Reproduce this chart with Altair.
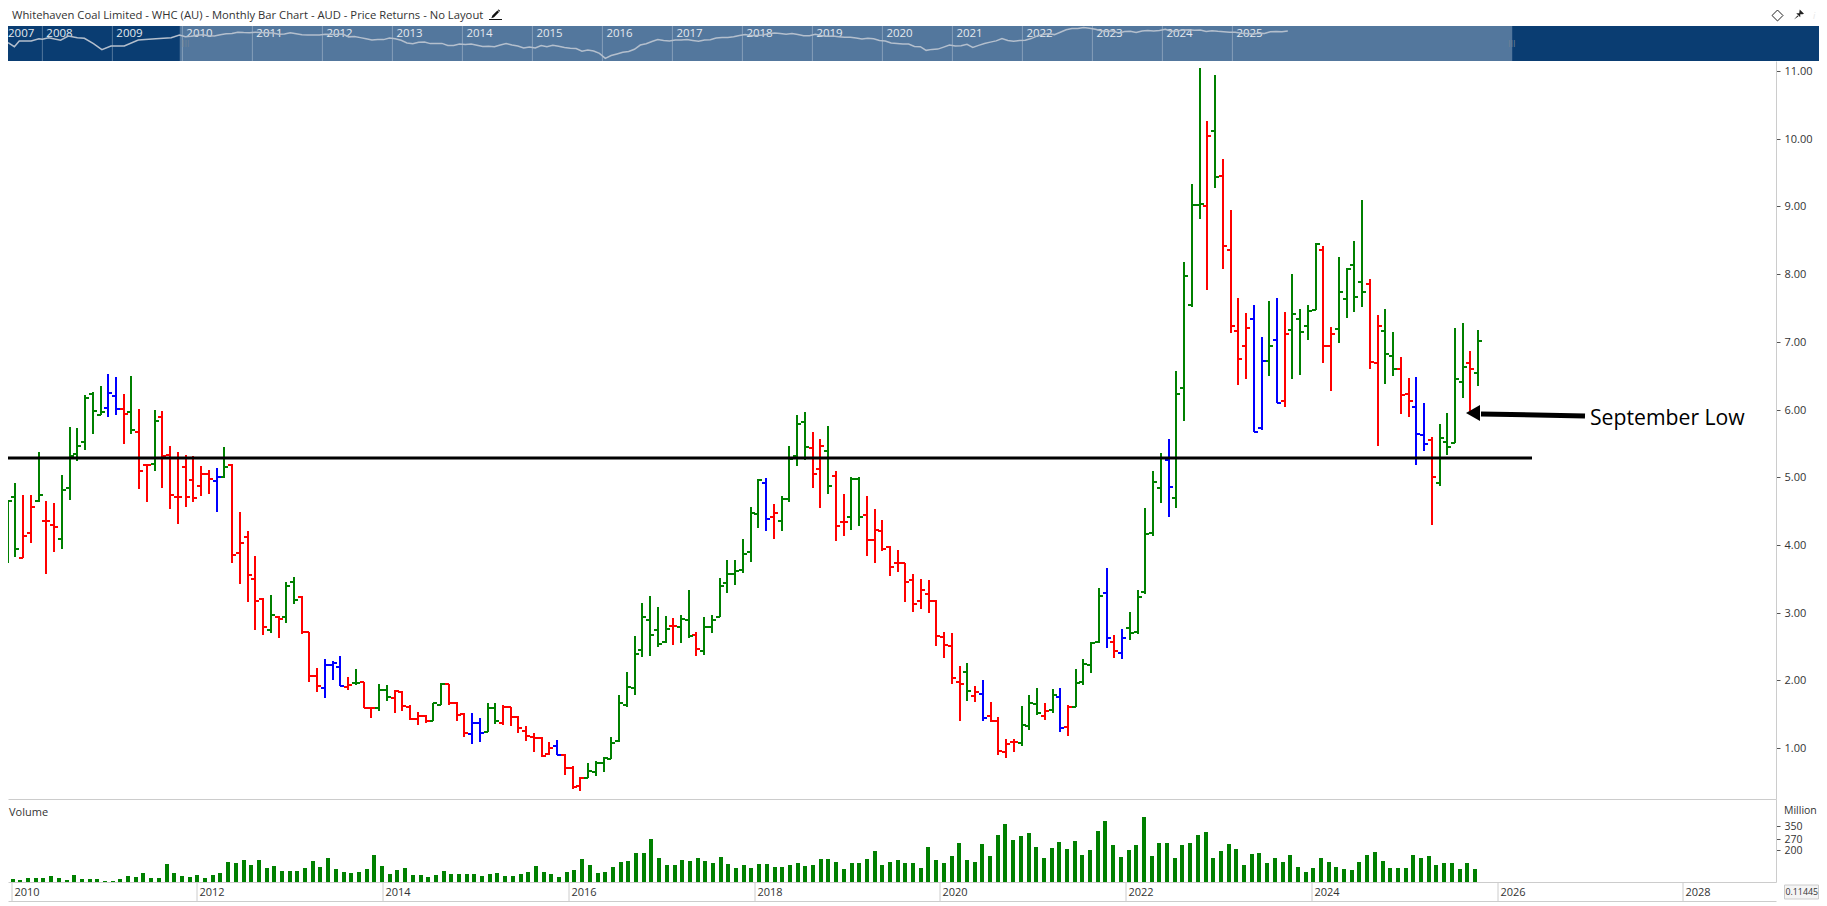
"""Whitehaven Coal monthly OHLC bar chart with navigator strip and volume panel."""

import altair as alt
import pandas as pd

FONT = "Open Sans"
TEXT_COLOR = "#333333"
LINE_GREY = "#cccccc"
COLORS = {"g": "#008000", "r": "#ff0000", "b": "#0000ff"}

# monthly bars, first one is Dec 2009
BAR_OPEN = [
    3.73, 4.71, 3.81, 4.17, 4.65, 4.35, 4.29, 4.09, 4.84, 5.35,
    5.52, 6.23, 5.92, 6.02, 6.20, 6.01, 5.96, 5.67, 5.18, 5.19,
    5.89, 5.33, 4.71, 5.15, 4.96, 4.87, 5.05, 4.94, 5.00, 5.18,
    3.88, 4.11, 3.50, 3.20, 2.75, 2.93, 2.94, 3.45, 3.23, 2.71,
    2.06, 1.88, 2.23, 2.19, 1.90, 1.96, 1.97, 1.59, 1.59, 1.86,
    1.74, 1.83, 1.60, 1.43, 1.47, 1.40, 1.64, 1.95, 1.66, 1.50,
    1.20, 1.37, 1.24, 1.59, 1.37, 1.60, 1.46, 1.25, 1.16, 1.15,
    0.91, 1.03, 0.90, 0.70, 0.44, 0.56, 0.65, 0.78, 0.84, 1.10,
    1.63, 1.89, 2.45, 2.89, 2.74, 2.57, 2.80, 2.79, 2.89, 2.67,
    2.43, 2.79, 2.93, 3.44, 3.57, 3.63, 3.90, 4.45, 4.92, 4.41,
    4.35, 4.68, 5.31, 5.82, 5.43, 5.12, 5.39, 5.02, 4.34, 4.41,
    4.97, 4.44, 4.07, 4.21, 3.97, 3.73, 3.73, 3.48, 3.17, 3.28,
    3.17, 2.64, 2.51, 1.98, 2.12, 1.77, 1.80, 1.47, 1.40, 0.94,
    1.09, 1.07, 1.33, 1.65, 1.47, 1.56, 1.75, 1.31, 1.61, 1.98,
    2.23, 2.57, 3.29, 2.57, 2.40, 2.77, 2.71, 3.30, 4.18, 4.84,
    5.25, 4.69, 6.32, 7.54, 9.02, 9.01, 10.11, 9.45, 8.36, 7.16,
    6.94, 7.34, 5.73, 6.72, 7.03, 6.12, 7.17, 7.34, 7.23, 7.47,
    8.36, 6.94, 7.19, 7.63, 8.13, 7.88, 7.85, 6.69, 7.16, 6.79,
    6.60, 6.23, 6.04, 5.62, 5.55, 4.91, 5.52, 5.50, 6.41, 6.69, 6.54,
]
BAR_HIGH = [
    4.66, 4.91, 4.74, 4.74, 5.37, 4.65, 4.62, 5.04, 5.74, 5.73,
    6.21, 6.26, 6.35, 6.52, 6.48, 6.23, 6.49, 6.01, 5.18, 5.99,
    5.98, 5.46, 5.37, 5.33, 5.31, 5.17, 5.11, 5.13, 5.44, 5.19,
    4.49, 4.21, 3.84, 3.21, 3.26, 2.95, 3.45, 3.53, 3.24, 2.71,
    2.18, 2.31, 2.29, 2.36, 2.05, 2.17, 1.98, 1.59, 1.94, 1.93,
    1.85, 1.84, 1.63, 1.53, 1.49, 1.67, 1.96, 1.95, 1.68, 1.51,
    1.52, 1.44, 1.67, 1.66, 1.63, 1.60, 1.47, 1.32, 1.22, 1.16,
    1.09, 1.12, 0.91, 0.73, 0.57, 0.78, 0.81, 0.86, 1.16, 1.79,
    2.12, 2.66, 3.14, 3.24, 3.08, 2.95, 2.92, 2.97, 3.33, 2.71,
    2.93, 2.96, 3.51, 3.78, 3.78, 4.09, 4.56, 4.97, 4.99, 4.61,
    4.72, 5.46, 5.92, 5.96, 5.67, 5.56, 5.76, 5.09, 4.75, 5.00,
    5.00, 4.72, 4.53, 4.37, 3.99, 3.93, 3.74, 3.57, 3.50, 3.48,
    3.18, 2.71, 2.70, 2.21, 2.26, 1.92, 2.00, 1.68, 1.46, 1.13,
    1.13, 1.62, 1.78, 1.89, 1.67, 1.87, 1.89, 1.64, 2.17, 2.31,
    2.57, 3.36, 3.66, 2.67, 2.76, 3.01, 3.33, 4.54, 5.09, 5.36,
    5.56, 6.57, 8.18, 9.33, 11.04, 10.26, 10.94, 9.70, 8.95, 7.65,
    7.43, 7.54, 7.07, 7.60, 7.65, 7.44, 8.00, 7.48, 7.54, 8.46,
    8.41, 7.22, 8.25, 8.09, 8.49, 9.09, 7.93, 7.40, 7.48, 7.15,
    6.77, 6.47, 6.48, 6.10, 5.59, 5.79, 5.95, 7.20, 7.28, 6.86, 7.17,
]
BAR_LOW = [
    3.73, 3.82, 3.80, 4.03, 4.64, 3.57, 3.90, 3.94, 4.66, 5.24,
    5.40, 5.64, 5.92, 5.89, 5.92, 5.49, 5.64, 4.83, 4.63, 5.09,
    4.84, 4.53, 4.31, 4.56, 4.63, 4.72, 4.75, 4.48, 4.99, 3.73,
    3.42, 3.16, 2.75, 2.67, 2.70, 2.63, 2.84, 3.12, 2.69, 1.97,
    1.83, 1.74, 2.01, 1.92, 1.86, 1.93, 1.59, 1.45, 1.54, 1.69,
    1.51, 1.54, 1.42, 1.34, 1.37, 1.40, 1.64, 1.64, 1.40, 1.16,
    1.06, 1.09, 1.23, 1.36, 1.34, 1.32, 1.22, 1.10, 0.94, 0.87,
    0.90, 0.89, 0.60, 0.40, 0.37, 0.56, 0.58, 0.65, 0.84, 1.09,
    1.60, 1.79, 2.34, 2.36, 2.49, 2.55, 2.52, 2.55, 2.62, 2.36,
    2.37, 2.70, 2.93, 3.29, 3.41, 3.59, 3.75, 4.25, 4.21, 4.09,
    4.21, 4.63, 5.17, 5.25, 4.84, 4.55, 4.75, 4.06, 4.13, 4.22,
    4.28, 3.84, 3.73, 3.91, 3.54, 3.60, 3.16, 3.01, 3.05, 3.00,
    2.51, 2.33, 1.95, 1.40, 1.69, 1.68, 1.40, 1.38, 0.89, 0.85,
    0.94, 1.03, 1.27, 1.49, 1.41, 1.52, 1.24, 1.18, 1.60, 1.93,
    2.11, 2.55, 2.48, 2.33, 2.31, 2.60, 2.69, 3.28, 4.13, 4.62,
    4.41, 4.54, 5.83, 7.51, 8.81, 7.77, 9.27, 8.08, 7.13, 6.36,
    6.45, 5.67, 5.70, 6.50, 6.10, 6.04, 6.45, 6.51, 7.03, 7.47,
    6.69, 6.27, 6.98, 7.35, 7.44, 7.51, 6.60, 5.46, 6.38, 6.50,
    5.93, 5.89, 5.18, 5.39, 4.29, 4.87, 5.33, 5.50, 6.17, 5.98, 6.35,
]
BAR_CLOSE = [
    4.65, 3.94, 4.13, 4.56, 4.73, 4.35, 4.26, 4.81, 5.31, 5.46,
    6.17, 5.98, 5.96, 6.24, 6.01, 5.93, 5.70, 5.09, 5.18, 5.83,
    5.31, 4.74, 4.71, 4.71, 4.69, 5.05, 4.97, 5.00, 5.15, 3.85,
    4.03, 3.56, 3.17, 2.79, 2.96, 2.90, 3.39, 3.19, 2.71, 2.06,
    1.91, 2.23, 2.25, 1.92, 1.93, 1.96, 1.59, 1.59, 1.86, 1.75,
    1.84, 1.62, 1.43, 1.47, 1.40, 1.67, 1.94, 1.67, 1.49, 1.22,
    1.37, 1.22, 1.59, 1.40, 1.61, 1.46, 1.30, 1.18, 1.15, 0.88,
    1.00, 0.90, 0.70, 0.42, 0.56, 0.66, 0.78, 0.85, 1.07, 1.66,
    1.90, 2.39, 2.93, 2.67, 2.54, 2.76, 2.80, 2.91, 2.66, 2.46,
    2.79, 2.89, 3.39, 3.57, 3.61, 3.87, 4.47, 4.96, 4.38, 4.47,
    4.68, 5.27, 5.79, 5.45, 5.05, 5.46, 4.87, 4.28, 4.34, 4.97,
    4.41, 4.07, 4.22, 3.94, 3.68, 3.73, 3.45, 3.13, 3.33, 3.17,
    2.65, 2.52, 2.03, 1.95, 1.84, 1.83, 1.44, 1.40, 0.96, 1.06,
    1.09, 1.34, 1.67, 1.52, 1.55, 1.78, 1.30, 1.60, 1.96, 2.24,
    2.55, 3.25, 2.63, 2.43, 2.63, 2.70, 3.23, 4.16, 4.93, 5.29,
    4.86, 6.23, 7.97, 9.02, 9.03, 10.04, 9.43, 8.42, 7.23, 6.75,
    7.20, 5.67, 6.72, 6.94, 6.10, 7.11, 7.41, 7.14, 7.46, 8.45,
    6.94, 7.11, 7.74, 8.07, 7.66, 7.74, 6.70, 7.23, 6.82, 6.60,
    6.21, 6.13, 5.64, 5.49, 5.00, 5.58, 5.45, 6.45, 6.63, 6.60, 7.01,
]
BAR_COLOR = list(
    "ggrrgrrggg" "gggbbrgrrg" "rrrrrrrbgr" "rrrrgrggrr" "rbbbrgrrgg"
    "rrrrrggrrr" "bbggrrrrrr" "rbrrrggggg" "ggggggrggr" "ggggggggbr"
    "ggggrrgrrg" "grrrrrrrrr" "rrrrgrbrrr" "rgggrgbrgg" "ggbrbggggg"
    "bggggrgrrr" "rbbgbrgggg" "rrggggrrgg" "rrbbrggggrg"
)
VOLUME = [
    19, 13, 23, 25, 25, 38, 25, 13, 44, 19, 19, 19, 6, 6, 19, 38, 32, 57, 25, 25,
    113, 57, 38, 32, 44, 25, 44, 57, 126, 120, 139, 107, 139, 88, 101, 69, 69, 69, 88, 132,
    94, 151, 82, 63, 57, 63, 82, 170, 101, 50, 76, 88, 44, 44, 32, 44, 69, 50, 50, 50,
    50, 38, 50, 57, 38, 38, 50, 63, 101, 63, 50, 32, 63, 76, 145, 107, 57, 63, 94, 126,
    132, 183, 183, 271, 151, 107, 107, 139, 132, 151, 132, 120, 157, 113, 88, 107, 88, 113, 113, 94,
    94, 107, 120, 101, 107, 145, 145, 126, 82, 120, 120, 145, 195, 107, 126, 139, 120, 120, 88, 220,
    139, 120, 164, 246, 139, 126, 239, 164, 296, 365, 265, 290, 309, 220, 151, 214, 252, 208, 258, 170,
    202, 321, 384, 233, 157, 202, 233, 410, 164, 246, 246, 151, 233, 246, 296, 315, 151, 195, 239, 208,
    107, 176, 183, 120, 151, 126, 170, 94, 63, 88, 151, 126, 94, 82, 76, 126, 170, 189, 132, 88,
    88, 88, 170, 151, 164, 107, 120, 120, 82, 120, 82,
]

# navigator line before the main data starts
NAV_EARLY_YEAR = [
    2007.51, 2007.6, 2007.67, 2007.84, 2007.95, 2008.0, 2008.09, 2008.26, 2008.37, 2008.5,
    2008.6, 2008.73, 2008.85, 2008.98, 2009.17, 2009.37, 2009.62, 2009.84,
]
NAV_EARLY_PRICE = [
    2.12, 1.40, 2.53, 2.53, 3.19, 3.00, 3.54, 2.71, 4.22, 3.54,
    3.33, 1.91, 1.03, 1.51, 1.51, 2.79, 3.19, 3.54,
]
NAV_YEARS = list(range(2008, 2026))
PRICE_TICKS = [1, 2, 3, 4, 5, 6, 7, 8, 9, 10, 11]
VOLUME_TICKS = [200, 270, 350]
AXIS_YEARS = [2010, 2012, 2014, 2016, 2018, 2020, 2022, 2024, 2026, 2028]

TITLE = "Whitehaven Coal Limited - WHC (AU) - Monthly Bar Chart - AUD - Price Returns - No Layout"
LEVEL = 5.29
LEVEL_END = 2026.37

X_DOMAIN = [2009.9623, 2028.9977]
NAV_DOMAIN = [2007.509, 2033.38]
PRICE_DOMAIN = [0.247, 11.148]

bars = pd.DataFrame(
    {
        "year": [2010 + (i - 0.5) / 12 for i in range(len(BAR_OPEN))],
        "open": BAR_OPEN,
        "high": BAR_HIGH,
        "low": BAR_LOW,
        "close": BAR_CLOSE,
        "color": BAR_COLOR,
        "volume": VOLUME,
    }
)

x_scale = alt.Scale(domain=X_DOMAIN, nice=False, round=True)
y_scale = alt.Scale(domain=PRICE_DOMAIN, nice=False, zero=False, round=True)
color_scale = alt.Scale(domain=list(COLORS), range=list(COLORS.values()))
bar_color = alt.Color("color:N", scale=color_scale, legend=None)


def text_mark(label, x, y, **kwargs):
    style = {"font": FONT, "fontSize": 11, "color": TEXT_COLOR, "align": "left", "baseline": "middle"}
    style.update(kwargs)
    return alt.Chart(pd.DataFrame({"label": [label]})).mark_text(**style).encode(
        x=alt.value(x), y=alt.value(y), text="label:N"
    )


def icon(shape, x, y, size, **kwargs):
    return alt.Chart(pd.DataFrame({"a": [0]})).mark_point(shape=shape, size=size, opacity=1, **kwargs).encode(
        x=alt.value(x), y=alt.value(y)
    )


# header row
PENCIL = "M-1,1 L-0.75,0.35 L0.45,-0.85 L0.85,-0.45 L-0.35,0.75 Z M0.55,-0.95 L0.75,-1.1 L1.1,-0.75 L0.95,-0.55 Z"
PIN = "M0.15,-1 L1,-0.15 L0.7,-0.05 L0.25,-0.05 L0.25,0.55 L-0.55,-0.25 L0.05,-0.25 L0.1,-0.7 Z M-0.3,0.2 L-1,1 L-0.1,0.35 Z"
header = alt.layer(
    text_mark(TITLE, 4, 7, fontSize=11.25),
    icon(PENCIL, 487.5, 5, 70, filled=True, color="#111111"),
    alt.Chart(pd.DataFrame({"a": [0]})).mark_rule(color="#111111", strokeWidth=1).encode(
        x=alt.value(481), x2=alt.value(494), y=alt.value(10.5)
    ),
    icon("diamond", 1769.5, 6.5, 120, filled=False, color="#222222", strokeWidth=1),
    icon(PIN, 1791, 5.5, 100, filled=True, color="#222222"),
    text_mark("i", 1805, 7, color="#e8e8e8", fontStyle="italic", fontSize=9),
).properties(width=1811, height=17)

# navigator strip
nav_x = alt.X("year:Q", scale=alt.Scale(domain=NAV_DOMAIN, nice=False), axis=None)
nav_line = pd.DataFrame(
    {
        "year": NAV_EARLY_YEAR + bars["year"].tolist(),
        "price": NAV_EARLY_PRICE + BAR_CLOSE,
    }
)
nav_years = pd.DataFrame({"year": NAV_YEARS, "label": [str(y) for y in NAV_YEARS]})
nav = alt.layer(
    alt.Chart(pd.DataFrame({"a": [X_DOMAIN[0]], "b": [X_DOMAIN[1]]})).mark_rect(color="#53779d").encode(
        x=alt.X("a:Q", scale=alt.Scale(domain=NAV_DOMAIN, nice=False), axis=None), x2="b:Q"
    ),
    alt.Chart(nav_years).mark_rule(color="#ffffff", opacity=0.3, strokeWidth=1).encode(x=nav_x),
    alt.Chart(nav_years).mark_text(font=FONT, fontSize=11.5, color="#e4e9ef", align="left", dx=4).encode(
        x=nav_x, y=alt.value(7.5), text="label:N"
    ),
    text_mark("2007", 0, 7.5, color="#e4e9ef", fontSize=11.5),
    alt.Chart(nav_line).mark_line(color="#b4bfcd", strokeWidth=1.5, clip=True).encode(
        x=nav_x,
        y=alt.Y("price:Q", scale=alt.Scale(type="log", domain=[0.32, 11.8], nice=False), axis=None),
    ),
    text_mark("III", 174, 17.5, color="#6f8296", fontSize=9),
    text_mark("III", 1500, 17.5, color="#6f8296", fontSize=9),
).properties(width=1811, height=35, view=alt.ViewBackground(fill="#0a3d72", stroke=None))

# price panel
px = alt.X(
    "year:Q",
    scale=x_scale,
    axis=alt.Axis(title=None, labels=False, ticks=False, grid=False, domainColor=LINE_GREY),
)
py = alt.Y(
    "low:Q",
    scale=y_scale,
    axis=alt.Axis(
        title=None, orient="right", values=PRICE_TICKS, format=".2f", grid=False, domainColor=LINE_GREY,
        tickColor="#555555", tickSize=4, labelPadding=4, labelFont=FONT, labelFontSize=11, labelColor=TEXT_COLOR,
    ),
)
stems = alt.Chart(bars).mark_rule(strokeWidth=2, clip=True).encode(x=px, y=py, y2="high:Q", color=bar_color)
opens = alt.Chart(bars).mark_tick(orient="horizontal", size=4, thickness=2, xOffset=-2, opacity=1, clip=True).encode(
    x="year:Q", y="open:Q", color=bar_color
)
closes = alt.Chart(bars).mark_tick(orient="horizontal", size=4, thickness=2, xOffset=2, opacity=1, clip=True).encode(
    x="year:Q", y="close:Q", color=bar_color
)
level = alt.Chart(pd.DataFrame({"a": [X_DOMAIN[0]], "b": [LEVEL_END], "p": [LEVEL]})).mark_rule(
    color="black", strokeWidth=3, clip=True
).encode(x="a:Q", x2="b:Q", y="p:Q")
arrow_shaft = alt.Chart(
    pd.DataFrame({"a": [2025.82], "b": [2026.94], "p": [5.94], "q": [5.90]})
).mark_rule(color="black", strokeWidth=5).encode(x="a:Q", x2="b:Q", y="p:Q", y2="q:Q")
arrow_head = alt.Chart(pd.DataFrame({"a": [2025.74], "p": [5.945]})).mark_point(
    shape="triangle-left", filled=True, size=260, color="black", opacity=1
).encode(x="a:Q", y="p:Q")
arrow_text = alt.Chart(pd.DataFrame({"a": [2026.995], "p": [5.86], "label": ["September Low"]})).mark_text(
    font=FONT, fontSize=21.2, color="#000000", align="left", baseline="middle"
).encode(x="a:Q", y="p:Q", text="label:N")
price = alt.layer(stems, opens, closes, level, arrow_shaft, arrow_head, arrow_text).properties(width=1768, height=738)

# volume panel
volume = alt.layer(
    alt.Chart(bars).mark_bar(size=4, color="#008000", clip=True).encode(
        x=alt.X(
            "year:Q",
            scale=x_scale,
            axis=alt.Axis(title=None, labels=False, ticks=False, grid=False, domainColor=LINE_GREY),
        ),
        y=alt.Y(
            "volume:Q",
            scale=alt.Scale(domain=[0, 523], nice=False, round=True),
            axis=alt.Axis(
                title=None, orient="right", values=VOLUME_TICKS, grid=False, domainColor=LINE_GREY,
                tickColor="#555555", tickSize=4, labelPadding=4, labelFont=FONT, labelFontSize=10.5,
                labelColor=TEXT_COLOR,
            ),
        ),
    ),
    text_mark("Volume", 1, 13.5),
    text_mark("Million", 1776, 12, fontSize=10.5),
).properties(width=1768, height=83)

# date strip below the volume panel
strip = alt.layer(
    alt.Chart(pd.DataFrame({"year": AXIS_YEARS})).mark_rule(color=LINE_GREY, strokeWidth=1).encode(
        x=alt.X(
            "year:Q",
            scale=x_scale,
            axis=alt.Axis(
                title=None, values=AXIS_YEARS, format="d", grid=False, ticks=False, domainColor=LINE_GREY,
                labelAlign="left", labelOffset=2, labelBaseline="middle", labelPadding=-9, labelFlush=False,
                labelOverlap=False, labelFont=FONT, labelFontSize=11, labelColor=TEXT_COLOR,
            ),
        ),
    ),
    alt.Chart(pd.DataFrame({"a": [0]})).mark_rect(fill="#f4f4f4", stroke=LINE_GREY, strokeWidth=1).encode(
        x=alt.value(1776.5), x2=alt.value(1810.5), y=alt.value(3), y2=alt.value(17)
    ),
    text_mark("0.11445", 1777.5, 10, fontSize=8.8),
).properties(width=1768, height=19)

chart = (
    alt.vconcat(header, nav, price, volume, strip, spacing=0, bounds="flush")
    .properties(padding=0)
    .configure_view(stroke=None)
)

chart.save("out.html", embed_options={"renderer": "svg", "actions": False})
